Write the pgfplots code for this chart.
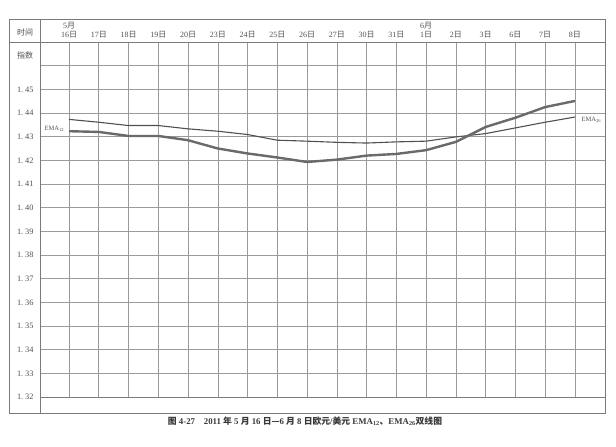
\documentclass[border=0pt]{standalone}
\usepackage{pgfplots}
\pgfplotsset{compat=1.18}
\usepackage{fontspec}
\setmainfont{Liberation Serif}
\newfontfamily\cjk{Noto Sans CJK SC}
\newcommand{\ri}{{\cjk 日}}
\newcommand{\dt}{.\hspace{2pt}}
\definecolor{gridc}{HTML}{9A9A9A}
\definecolor{framec}{HTML}{7A7A7A}
\definecolor{txtc}{HTML}{505050}
\definecolor{emaA}{HTML}{6A6A6A}
\definecolor{emaB}{HTML}{505050}
\begin{document}
\begin{tikzpicture}[x=1pt,y=1pt]
\path[use as bounding box] (0,0) rectangle (616,447);
\draw[framec, line width=0.6pt] (9,34) rectangle (605,428);
\draw[framec, line width=0.6pt] (40,34) -- (40,428);
\draw[framec, line width=0.6pt] (9,405) -- (40,405);
\node[font=\cjk\fontsize{8}{9}\selectfont, text=txtc] at (25,415) {时间};
\node[font=\cjk\fontsize{8}{9}\selectfont, text=txtc] at (25,392) {指数};
\node[font=\bfseries\fontsize{8.8}{10}\selectfont, text=txtc!70!black] at (305,26)
  {{\cjk 图} 4-27\quad 2011 {\cjk 年} 5 {\cjk 月} 16 {\cjk 日—}6 {\cjk 月} 8 {\cjk 日欧元}/{\cjk 美元} EMA\textsubscript{12}{\cjk 、}EMA\textsubscript{26}{\cjk 双线图}};
\begin{axis}[
  at={(40pt,50pt)}, anchor=south west,
  scale only axis, width=565pt, height=355pt,
  xmin=-0.9745, xmax=18.01, ymin=1.32, ymax=1.47,
  clip=false,
  xtick={0,1,2,3,4,5,6,7,8,9,10,11,12,13,14,15,16,17},
  ytick={1.32,1.33,1.34,1.35,1.36,1.37,1.38,1.39,1.40,1.41,1.42,1.43,1.44,1.45,1.46,1.47},
  xticklabels={16\ri,17\ri,18\ri,19\ri,20\ri,23\ri,24\ri,25\ri,26\ri,27\ri,30\ri,31\ri,1\ri,2\ri,3\ri,6\ri,7\ri,8\ri},
  yticklabels={1\dt32,1\dt33,1\dt34,1\dt35,1\dt36,1\dt37,1\dt38,1\dt39,1\dt40,1\dt41,1\dt42,1\dt43,1\dt44,1\dt45,,},
  xticklabel pos=upper,
  xticklabel style={font=\fontsize{8}{9}\selectfont, text=txtc, yshift=0pt},
  yticklabel style={font=\fontsize{8.3}{9}\selectfont, text=txtc, anchor=west, xshift=-26.5pt},
  tick style={draw=none},
  grid=major,
  major grid style={gridc, line width=0.55pt},
  axis line style={framec, line width=0.6pt},
]
\addplot[emaB, line width=1.1pt] coordinates {
(0,1.4373) (1,1.4361) (2,1.4347) (3,1.4347) (4,1.4333) (5,1.4323) (6,1.4309) (7,1.4285) (8,1.4281)
(9,1.4276) (10,1.4273) (11,1.4278) (12,1.4281) (13,1.4299) (14,1.4313) (15,1.4337) (16,1.4361) (17,1.4383)};
\addplot[emaA, line width=2.4pt] coordinates {
(0,1.4323) (1,1.4320) (2,1.4303) (3,1.4303) (4,1.4285) (5,1.4250) (6,1.4229) (7,1.4212) (8,1.4193)
(9,1.4203) (10,1.4220) (11,1.4227) (12,1.4243) (13,1.4278) (14,1.4341) (15,1.4380) (16,1.4425) (17,1.4451)};
\node[font=\fontsize{8}{9}\selectfont, text=txtc] at (axis cs:0,1.47) [yshift=16.5pt] {5{\cjk 月}};
\node[font=\fontsize{8}{9}\selectfont, text=txtc] at (axis cs:12,1.47) [yshift=16.5pt] {6{\cjk 月}};
\node[font=\fontsize{6.5}{7}\selectfont, text=txtc] at (axis cs:-0.49,1.4334) {EMA\textsubscript{12}};
\node[font=\fontsize{6.5}{7}\selectfont, text=txtc] at (axis cs:17.55,1.4373) {EMA\textsubscript{26}};
\end{axis}
\end{tikzpicture}
\end{document}
